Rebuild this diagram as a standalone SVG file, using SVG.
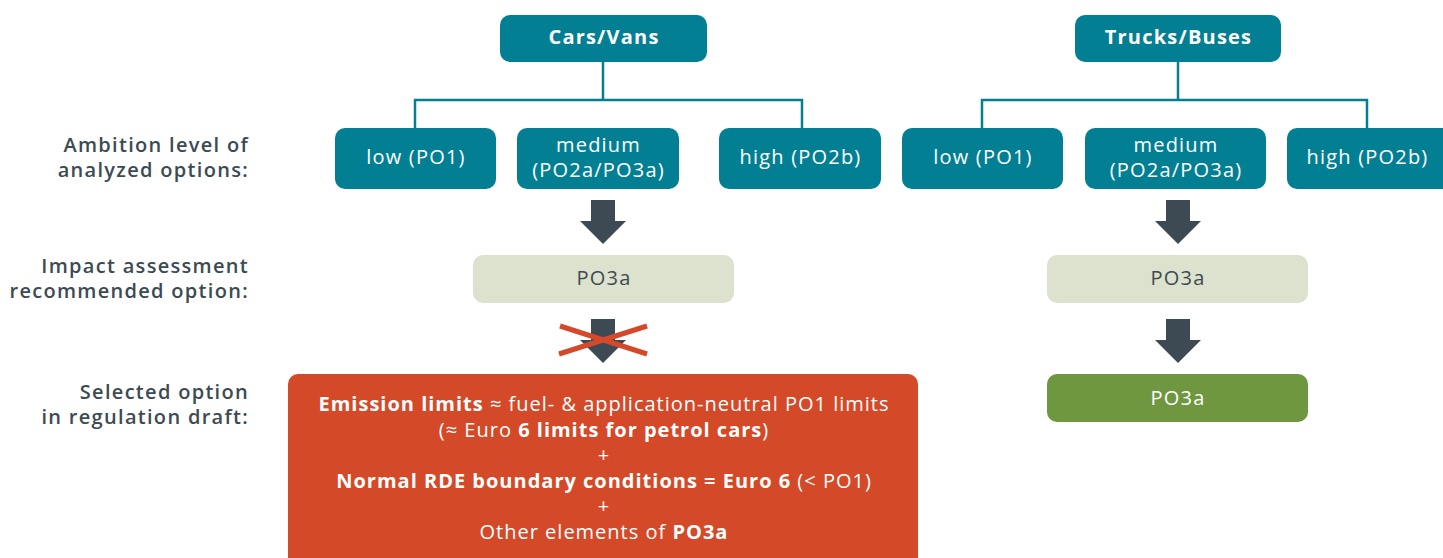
<svg xmlns="http://www.w3.org/2000/svg" width="1443" height="558" viewBox="0 0 1443 558">
<style>
text{font-family:"Open Sans","Liberation Sans",sans-serif;}
.teal{fill:#037f94;}
.light{fill:#dce2cd;}
.tw{fill:#ffffff;font-size:20px;text-anchor:middle;letter-spacing:1.2px;}
.tb{font-weight:700;}
.lab{fill:#3d4a53;font-size:20px;font-weight:600;text-anchor:end;letter-spacing:1.3px;}
.dk{fill:#3d4a53;font-size:20px;text-anchor:middle;letter-spacing:1.2px;}
.conn{stroke:#037f94;stroke-width:2.5;fill:none;}
.arr{fill:#3d4a53;}
</style>
<defs>
<path id="arrow" d="M-12,0 H12 V21 H23 L0,44 L-23,21 H-12 Z"/>
</defs>
<g id="connectors">
<path class="conn" d="M603,62 V100 M415,128 V100 H802 V128"/>
<path class="conn" d="M1178,62 V100 M982,128 V100 H1367 V128"/>
<use href="#arrow" class="arr" x="603" y="200"/>
<use href="#arrow" class="arr" x="603" y="319"/>
<use href="#arrow" class="arr" x="1178" y="200"/>
<use href="#arrow" class="arr" x="1178" y="319"/>
<g id="cross" stroke="#d5492a" stroke-width="5" stroke-linecap="butt">
<line x1="559" y1="354" x2="647" y2="326"/>
<line x1="560" y1="326" x2="647" y2="354"/>
</g>
</g>
<g id="row-labels">
<text class="lab" x="249" y="152">Ambition level of</text>
<text class="lab" x="249" y="177">analyzed options:</text>
<text class="lab" x="249" y="273">Impact assessment</text>
<text class="lab" x="249" y="298">recommended option:</text>
<text class="lab" x="249" y="399">Selected option</text>
<text class="lab" x="249" y="424">in regulation draft:</text>
</g>
<g id="cars-vans">
<rect class="teal" x="500" y="15" width="207" height="47" rx="10"/>
<text class="tw tb" x="604" y="44">Cars/Vans</text>
</g>
<g id="trucks-buses">
<rect class="teal" x="1075" y="15" width="206" height="47" rx="10"/>
<text class="tw tb" x="1178.5" y="44">Trucks/Buses</text>
</g>
<g id="cv-low">
<rect class="teal" x="335" y="128" width="161" height="61" rx="10"/>
<text class="tw" x="416" y="164">low (PO1)</text>
</g>
<g id="cv-medium">
<rect class="teal" x="517" y="128" width="162" height="61" rx="10"/>
<text class="tw" x="598.5" y="152">medium</text>
<text class="tw" x="598.5" y="177">(PO2a/PO3a)</text>
</g>
<g id="cv-high">
<rect class="teal" x="719" y="128" width="162" height="61" rx="10"/>
<text class="tw" x="800.5" y="164">high (PO2b)</text>
</g>
<g id="tb-low">
<rect class="teal" x="902" y="128" width="161" height="61" rx="10"/>
<text class="tw" x="983" y="164">low (PO1)</text>
</g>
<g id="tb-medium">
<rect class="teal" x="1085" y="128" width="181" height="61" rx="10"/>
<text class="tw" x="1176" y="152">medium</text>
<text class="tw" x="1176" y="177">(PO2a/PO3a)</text>
</g>
<g id="tb-high">
<rect class="teal" x="1287" y="128" width="170" height="61" rx="10"/>
<text class="tw" x="1367.5" y="164">high (PO2b)</text>
</g>
<g id="cv-ia">
<rect class="light" x="473" y="255" width="261" height="48" rx="10"/>
<text class="dk" x="604" y="285">PO3a</text>
</g>
<g id="tb-ia">
<rect class="light" x="1047" y="255" width="261" height="48" rx="10"/>
<text class="dk" x="1178" y="285">PO3a</text>
</g>
<g id="tb-selected">
<rect x="1047" y="374" width="261" height="48" rx="10" fill="#6e973f"/>
<text class="tw" x="1178" y="405">PO3a</text>
</g>
<g id="cv-selected">
<rect x="288" y="374" width="630" height="200" rx="10" fill="#d44a29"/>
<text class="tw" x="604" y="411" style="letter-spacing:1px"><tspan class="tb">Emission limits</tspan> ≈ fuel- &amp; application-neutral PO1 limits</text>
<text class="tw" x="604" y="437" style="letter-spacing:1px">(≈ Euro <tspan class="tb">6 limits for petrol cars</tspan>)</text>
<text class="tw" x="604" y="462">+</text>
<text class="tw" x="604" y="488" style="letter-spacing:1px"><tspan class="tb">Normal RDE boundary conditions = Euro 6</tspan> (&lt; PO1)</text>
<text class="tw" x="604" y="513">+</text>
<text class="tw" x="604" y="539" style="letter-spacing:1px">Other elements of <tspan class="tb">PO3a</tspan></text>
</g>
</svg>
